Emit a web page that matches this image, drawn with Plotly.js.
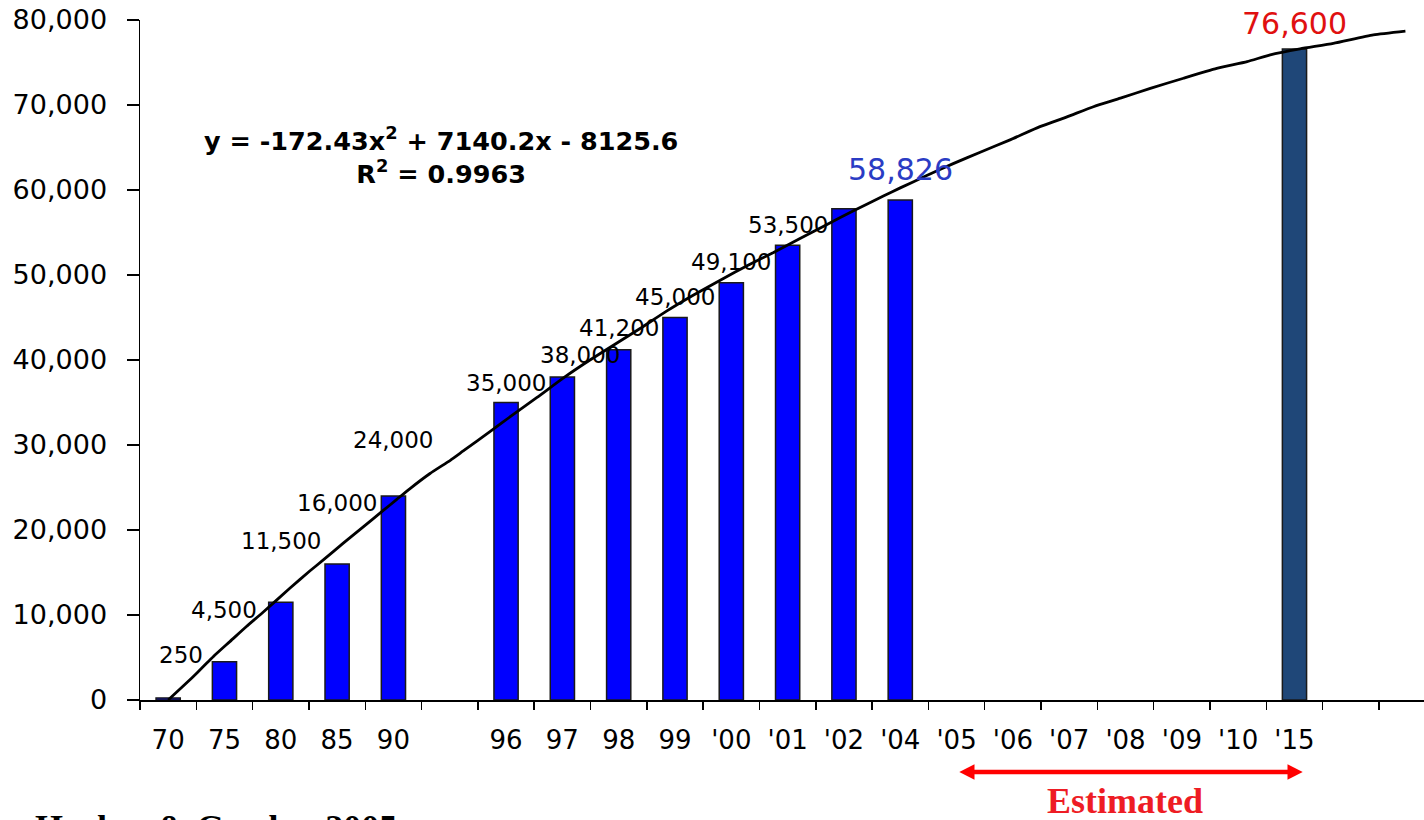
<!DOCTYPE html>
<html>
<head>
<meta charset="utf-8">
<script src="https://cdn.plot.ly/plotly-3.0.1.min.js"></script>
<style>html,body{margin:0;padding:0;background:#fff;}#chart{width:1424px;height:820px;}</style>
</head>
<body>
<div id="chart"></div>
<script>
// ---- data ----
const categories = ['70','75','80','85','90',' ','96','97','98','99',"'00","'01","'02","'04","'05","'06","'07","'08","'09","'10","'15",'  ','   '];
const values = [250,4500,11500,16000,24000,null,35000,38000,41200,45000,49100,53500,57800,58826,null,null,null,null,null,null,76600,null,null];
const estimatedCategory = "'15";

// trend line (x = category index, 0 = '70')
const trendX = [0,0.21,0.42,0.62,0.80,1.10,1.39,1.69,2.16,2.52,2.75,3.11,3.47,3.82,4.06,4.29,4.65,5.01,5.24,5.72,6.13,6.55,7.02,7.49,7.97,8.38,8.85,9.33,9.86,10.28,10.75,11.22,11.70,12.17,12.70,13.00,13.47,13.94,14.42,14.95,15.48,15.96,16.43,16.91,17.44,18.03,18.62,19.16,19.57,20.10,20.69,21.40,21.97];
const trendY = [0,1300,2600,3900,5100,6900,8650,10350,13150,15200,16450,18450,20400,22300,23600,24850,26650,28200,29300,31600,33600,35600,37900,40000,42000,43700,45750,47650,49600,51100,52650,54300,55950,57550,59300,60250,61700,63100,64450,65900,67450,68600,69800,70800,71950,73150,74300,75100,75900,76600,77250,78250,78700];

// data labels
const labelCats = ['70','75','80','85','90','96','97','98','99',"'00","'01","'04","'15"];
const labelText = ['250','4,500','11,500','16,000','24,000','35,000','38,000','41,200','45,000','49,100','53,500','58,826','76,600'];
const labelPosY = [5294,10588,18765,23176,30624,37259,40588,43765,47412,51529,55882,62471,79612];

const yTicks = [0,10000,20000,30000,40000,50000,60000,70000,80000];

const equationText = 'y = -172.43x<sup>2</sup> + 7140.2x - 8125.6';
const r2Text = 'R<sup>2</sup> = 0.9963';

// ---- styles ----
const FONT = 'DejaVu Sans';
const barColors = categories.map(c => c === estimatedCategory ? '#1F4778' : '#0000FF');

const bars = {
  type: 'bar', x: categories, y: values,
  marker: {color: barColors, line: {color: '#1a1a1a', width: 1.5}},
  width: 0.43, hoverinfo: 'skip', showlegend: false
};
const trend = {
  type: 'scatter', mode: 'lines', x: trendX, y: trendY,
  xaxis: 'x2', yaxis: 'y',
  line: {color: '#000', width: 2.8, shape: 'spline', smoothing: 0.5},
  hoverinfo: 'skip', showlegend: false
};

const labelAnn = labelCats.map((c, i) => {
  let color = '#000', size = 23;
  if (c === "'04") { color = '#2A3CC4'; size = 30; }
  if (c === estimatedCategory) { color = '#E01010'; size = 30; }
  let xshift = 0;
  if (c === '70') xshift = 13;
  if (c === '97') xshift = 18;
  return {
    x: categories.indexOf(c), y: labelPosY[i], xref: 'x', yref: 'y', text: labelText[i],
    showarrow: false, xanchor: 'center', yanchor: 'middle', xshift: xshift,
    font: {family: FONT, size: size, color: color}
  };
});

const px = v => (v - 140) / 1284;
const py = v => (700 - v) / 680;

const annotations = labelAnn.concat([
  {xref: 'paper', yref: 'paper', x: px(441), y: py(156), text: equationText + '<br>' + r2Text, showarrow: false,
   align: 'center', xanchor: 'center', yanchor: 'middle', font: {family: FONT, size: 25.5, color: '#000', weight: 'bold'}},
  {xref: 'paper', yref: 'paper', x: px(1125), y: py(801), text: 'Estimated', showarrow: false,
   xanchor: 'center', yanchor: 'middle', font: {family: 'Liberation Serif', size: 36, color: '#EE1C24', weight: 'bold'}},
  {xref: 'paper', yref: 'paper', x: px(33), y: py(828), text: 'Hacker &amp; Gordon 2005', showarrow: false,
   xanchor: 'left', yanchor: 'middle', font: {family: 'Liberation Serif', size: 36, color: '#000', weight: 'bold'}}
]);

const shapes = [
  {type: 'line', xref: 'paper', yref: 'paper', x0: px(972), x1: px(1290), y0: py(772), y1: py(772),
   line: {color: '#FF0000', width: 4.5}},
  {type: 'path', xref: 'paper', yref: 'paper',
   path: `M ${px(959.3)} ${py(772)} L ${px(974.5)} ${py(764.3)} L ${px(974.5)} ${py(779.7)} Z`,
   fillcolor: '#FF0000', line: {width: 0}},
  {type: 'path', xref: 'paper', yref: 'paper',
   path: `M ${px(1302.7)} ${py(772)} L ${px(1287.5)} ${py(764.3)} L ${px(1287.5)} ${py(779.7)} Z`,
   fillcolor: '#FF0000', line: {width: 0}}
];

const layout = {
  width: 1424, height: 820,
  margin: {l: 140, r: 0, t: 20, b: 120, pad: 0},
  paper_bgcolor: '#fff', plot_bgcolor: '#fff',
  showlegend: false,
  xaxis: {
    type: 'category', categoryorder: 'array', categoryarray: categories,
    range: [-0.5, 22.3], tickmode: 'linear', tick0: 0, dtick: 1, tickson: 'boundaries',
    ticks: 'outside', ticklen: 8, tickwidth: 1.5, tickcolor: '#000',
    showline: true, linecolor: '#000', linewidth: 1.5, showgrid: false, zeroline: false,
    tickangle: 0, ticklabelstandoff: 16,
    tickfont: {family: FONT, size: 26, color: '#000'}, fixedrange: true
  },
  xaxis2: {
    type: 'linear', overlaying: 'x', range: [-0.5, 22.3], visible: false, fixedrange: true
  },
  yaxis: {
    range: [0, 80000], tickmode: 'array', tickvals: yTicks,
    ticktext: yTicks.map(v => v.toLocaleString('en-US')),
    ticks: 'outside', ticklen: 12, tickwidth: 1.5, tickcolor: '#000',
    showline: true, linecolor: '#000', linewidth: 1.5, showgrid: false, zeroline: false,
    ticklabelstandoff: 14,
    tickfont: {family: FONT, size: 27, color: '#000'}, fixedrange: true
  },
  bargap: 0.57,
  annotations: annotations,
  shapes: shapes
};

Plotly.newPlot('chart', [bars, trend], layout, {staticPlot: true, displayModeBar: false});
</script>
</body>
</html>
